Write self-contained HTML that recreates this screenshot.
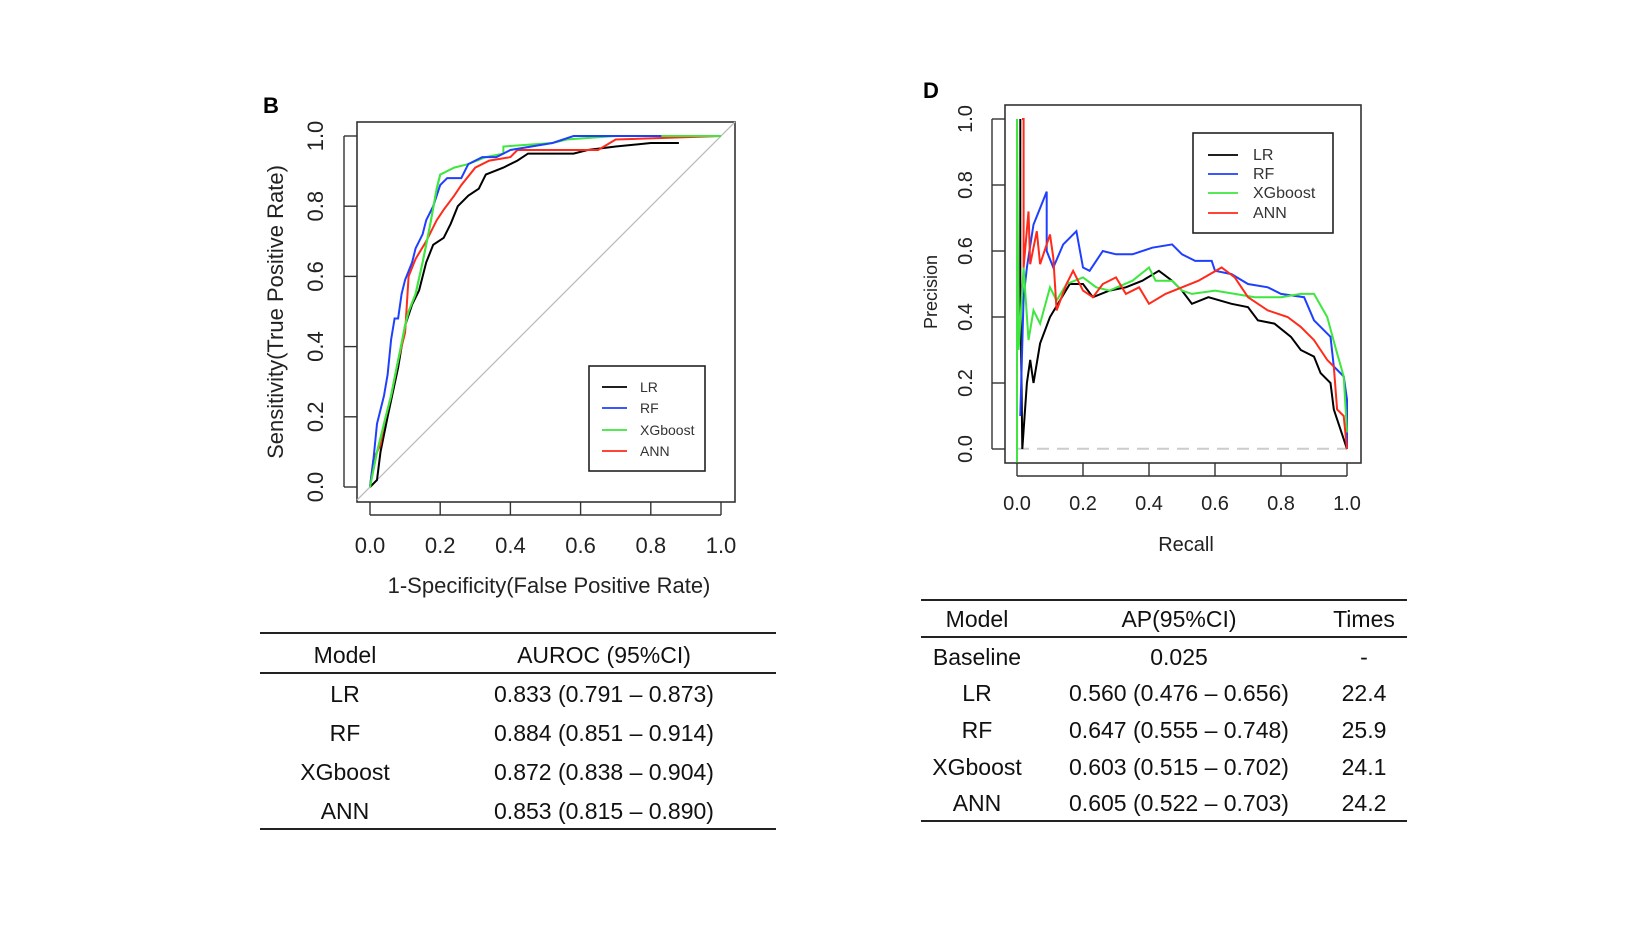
<!DOCTYPE html>
<html><head><meta charset="utf-8"><style>
html,body{margin:0;padding:0;background:#fff;}
svg{display:block;font-family:"Liberation Sans",sans-serif;}
</style></head><body>
<svg id="fig" width="1644" height="926" xmlns="http://www.w3.org/2000/svg">
<rect width="1644" height="926" fill="#fff"/>
<g id="roc"></g>
<g id="pr"></g>
<g id="tables"></g>
</svg>
<script>
const models=["LR","RF","XGboost","ANN"];
const colors=["#000000","#1f3fff","#3ee63e","#ff2a1a"];
const ticks=[0,0.2,0.4,0.6,0.8,1.0];
const tickLabels=["0.0","0.2","0.4","0.6","0.8","1.0"];
const rocLRx=[0,0.02,0.03,0.05,0.08,0.10,0.12,0.14,0.16,0.18,0.21,0.23,0.25,0.28,0.31,0.33,0.38,0.42,0.45,0.58,0.62,0.70,0.80,0.88];
const rocLRy=[0,0.02,0.10,0.20,0.34,0.46,0.52,0.56,0.64,0.69,0.71,0.75,0.80,0.83,0.85,0.89,0.91,0.93,0.95,0.95,0.96,0.97,0.98,0.98];
const rocRFx=[0,0.01,0.02,0.04,0.05,0.06,0.07,0.08,0.09,0.10,0.12,0.13,0.15,0.16,0.18,0.20,0.22,0.26,0.28,0.32,0.36,0.40,0.52,0.58,0.83];
const rocRFy=[0,0.08,0.18,0.26,0.32,0.42,0.48,0.48,0.55,0.59,0.64,0.68,0.72,0.76,0.80,0.86,0.88,0.88,0.92,0.94,0.94,0.96,0.98,1.0,1.0];
const rocXGx=[0,0.02,0.04,0.06,0.08,0.10,0.11,0.13,0.15,0.17,0.19,0.20,0.24,0.28,0.33,0.38,0.38,0.52,0.56,0.70,1.0];
const rocXGy=[0,0.10,0.18,0.26,0.36,0.46,0.50,0.55,0.64,0.74,0.85,0.89,0.91,0.92,0.94,0.95,0.97,0.98,0.99,1.0,1.0];
const rocANNx=[0,0.01,0.03,0.04,0.06,0.08,0.10,0.11,0.13,0.16,0.19,0.21,0.24,0.26,0.30,0.34,0.40,0.42,0.55,0.65,0.70,1.0];
const rocANNy=[0,0.08,0.12,0.18,0.26,0.36,0.44,0.60,0.65,0.70,0.76,0.79,0.83,0.86,0.91,0.93,0.94,0.96,0.96,0.96,0.99,1.0];
const prLRx=[0.01,0.01,0.016,0.03,0.04,0.05,0.07,0.10,0.13,0.16,0.20,0.23,0.28,0.33,0.38,0.43,0.47,0.50,0.53,0.58,0.65,0.70,0.73,0.78,0.83,0.86,0.90,0.92,0.95,0.96,0.98,0.99,1.0];
const prLRy=[1.0,0.5,0.0,0.20,0.27,0.20,0.32,0.40,0.45,0.50,0.50,0.46,0.48,0.49,0.51,0.54,0.51,0.48,0.44,0.46,0.44,0.43,0.39,0.38,0.34,0.30,0.28,0.23,0.20,0.12,0.06,0.03,0.0];
const prRFx=[0.01,0.02,0.03,0.05,0.09,0.09,0.11,0.14,0.18,0.20,0.22,0.26,0.30,0.35,0.41,0.47,0.50,0.54,0.59,0.60,0.65,0.70,0.76,0.80,0.87,0.90,0.95,0.96,0.99,1.0,1.0];
const prRFy=[0.10,0.46,0.55,0.68,0.78,0.60,0.55,0.62,0.66,0.55,0.54,0.60,0.59,0.59,0.61,0.62,0.59,0.57,0.57,0.54,0.53,0.50,0.49,0.47,0.46,0.39,0.34,0.25,0.22,0.15,0.0];
const prXGx=[0,0,0.005,0.02,0.035,0.05,0.07,0.10,0.12,0.15,0.20,0.24,0.28,0.35,0.40,0.42,0.47,0.50,0.53,0.60,0.66,0.72,0.80,0.86,0.90,0.94,0.97,0.99,1.0];
const prXGy=[-0.04,1.0,0.30,0.55,0.33,0.42,0.38,0.49,0.45,0.50,0.52,0.49,0.48,0.51,0.55,0.51,0.51,0.48,0.47,0.48,0.47,0.46,0.46,0.47,0.47,0.40,0.29,0.22,0.05];
const prANNx=[0.015,0.02,0.02,0.035,0.04,0.06,0.07,0.10,0.11,0.12,0.15,0.17,0.20,0.23,0.26,0.30,0.33,0.37,0.40,0.45,0.50,0.55,0.62,0.66,0.70,0.76,0.82,0.86,0.90,0.94,0.96,0.97,0.99,1.0];
const prANNy=[1.0,1.0,0.55,0.72,0.56,0.66,0.56,0.65,0.58,0.42,0.50,0.54,0.48,0.46,0.50,0.52,0.47,0.49,0.44,0.47,0.49,0.51,0.55,0.52,0.46,0.42,0.40,0.37,0.33,0.27,0.25,0.12,0.10,0.0];
const baseline=0.025;
const rocTableModels=["LR","RF","XGboost","ANN"];
const rocTableVals=["0.833 (0.791 – 0.873)","0.884 (0.851 – 0.914)","0.872 (0.838 – 0.904)","0.853 (0.815 – 0.890)"];
const prTableModels=["Baseline","LR","RF","XGboost","ANN"];
const prTableVals=["0.025","0.560 (0.476 – 0.656)","0.647 (0.555 – 0.748)","0.603 (0.515 – 0.702)","0.605 (0.522 – 0.703)"];
const prTableTimes=["-","22.4","25.9","24.1","24.2"];

const NS="http://www.w3.org/2000/svg";
function mk(parent,tag,attrs,text){const e=document.createElementNS(NS,tag);for(const k in attrs)e.setAttribute(k,attrs[k]);if(text!==undefined)e.textContent=text;parent.appendChild(e);return e;}

function panel(g,cfg){
  const sx=v=>cfg.x0+v*(cfg.x1-cfg.x0), sy=v=>cfg.y0+v*(cfg.y1-cfg.y0);
  const box=mk(g,'rect',{x:cfg.bx0,y:cfg.by0,width:cfg.bx1-cfg.bx0,height:cfg.by1-cfg.by0,fill:'none',stroke:'#333','stroke-width':1.6});
  
  mk(g,'line',{x1:sx(0),x2:sx(1),y1:cfg.by1+13,y2:cfg.by1+13,stroke:'#333','stroke-width':1.4});
  mk(g,'line',{x1:cfg.bx0-13,x2:cfg.bx0-13,y1:sy(0),y2:sy(1),stroke:'#333','stroke-width':1.4});
  ticks.forEach((t,i)=>{
    mk(g,'line',{x1:sx(t),x2:sx(t),y1:cfg.by1,y2:cfg.by1+13,stroke:'#333','stroke-width':1.4});
    const xl=mk(g,'text',{x:sx(t),y:cfg.xly,'text-anchor':'middle','font-size':cfg.fs,fill:'#222'},tickLabels[i]);
    
    mk(g,'line',{x1:cfg.bx0-13,x2:cfg.bx0,y1:sy(t),y2:sy(t),stroke:'#333','stroke-width':1.4});
    const yl=mk(g,'text',{x:0,y:0,'text-anchor':'middle','font-size':cfg.fs,fill:'#222',transform:`translate(${cfg.ylx},${sy(t)}) rotate(-90)`},tickLabels[i]);
    
  });
  return {sx,sy};
}
function series(g,sx,sy,xs,ys,color,name){
  const p=mk(g,'polyline',{points:xs.map((x,i)=>sx(x).toFixed(1)+','+sy(ys[i]).toFixed(1)).join(' '),fill:'none',stroke:color,'stroke-width':2,'stroke-linejoin':'miter'});
  
}
function legend(g,x0,y0,x1,y1,rows,lx0,lx1,tx,fs){
  const r=mk(g,'rect',{x:x0,y:y0,width:x1-x0,height:y1-y0,fill:'#fff',stroke:'#222','stroke-width':1.6});
  
  models.forEach((m,i)=>{
    mk(g,'line',{x1:lx0,x2:lx1,y1:rows[i],y2:rows[i],stroke:colors[i],'stroke-width':1.8});
    const t=mk(g,'text',{x:tx,y:rows[i]+5,'font-size':fs,fill:'#333'},m);
    
  });
}
// ROC
const roc=document.getElementById('roc');
{
  const lb=mk(roc,'text',{x:263,y:113,'font-size':22,'font-weight':'bold'},'B');
  
  const {sx,sy}=panel(roc,{x0:370,x1:721,y0:487,y1:136,bx0:357,bx1:735,by0:122,by1:502,xly:553,ylx:323,fs:22});
  mk(roc,'line',{x1:357,y1:sy(0)+(sx(0)-357)*(sy(1)-sy(0))/(sx(1)-sx(0))*-1,x2:sx(1)+((735-sx(1))),y2:sy(1)-(735-sx(1)),stroke:'#bbb','stroke-width':1.3});
  series(roc,sx,sy,rocLRx,rocLRy,colors[0],'roc-line-lr');
  series(roc,sx,sy,rocANNx,rocANNy,colors[3],'roc-line-ann');
  series(roc,sx,sy,rocXGx,rocXGy,colors[2],'roc-line-xgboost');
  series(roc,sx,sy,rocRFx,rocRFy,colors[1],'roc-line-rf');
  series(roc,sx,sy,rocXGx.slice(0,12),rocXGy.slice(0,12),colors[2],'roc-line-xgboost-top');
  legend(roc,589,366,705,471,[387,408,430,451],602,627,640,14);
  const xt=mk(roc,'text',{x:549,y:593,'text-anchor':'middle','font-size':22,fill:'#222'},'1-Specificity(False Positive Rate)');
  
  const yt=mk(roc,'text',{x:0,y:0,'text-anchor':'middle','font-size':22,fill:'#222',transform:'translate(283,312) rotate(-90)'},'Sensitivity(True Positive Rate)');
  
}
// PR
const pr=document.getElementById('pr');
{
  const lb=mk(pr,'text',{x:923,y:98,'font-size':22,'font-weight':'bold'},'D');
  
  const {sx,sy}=panel(pr,{x0:1017,x1:1347,y0:449,y1:119,bx0:1005,bx1:1361,by0:105,by1:463,xly:510,ylx:972,fs:20});
  const bl=mk(pr,'line',{x1:sx(0),x2:sx(1),y1:sy(baseline)+8,y2:sy(baseline)+8,stroke:'#ccc','stroke-width':2,'stroke-dasharray':'12,8'});
  
  series(pr,sx,sy,prLRx,prLRy,colors[0],'pr-line-lr');
  series(pr,sx,sy,prRFx,prRFy,colors[1],'pr-line-rf');
  series(pr,sx,sy,prXGx,prXGy,colors[2],'pr-line-xgboost');
  series(pr,sx,sy,prANNx,prANNy,colors[3],'pr-line-ann');
  legend(pr,1193,133,1333,233,[155,174,193,213],1208,1238,1253,16);
  const xt=mk(pr,'text',{x:1186,y:551,'text-anchor':'middle','font-size':20,fill:'#222'},'Recall');
  
  const yt=mk(pr,'text',{x:0,y:0,'text-anchor':'middle','font-size':18,fill:'#222',transform:'translate(937,292) rotate(-90)'},'Precision');
  
}
// Tables
const tb=document.getElementById('tables');
function hline(x1,x2,y){const l=mk(tb,'line',{x1,x2,y1:y,y2:y,stroke:'#222','stroke-width':2});}
function cell(x,y,t,name){const e=mk(tb,'text',{x,y,'text-anchor':'middle','font-size':23,fill:'#111'},t);}
hline(260,776,633);hline(260,776,673);hline(260,776,829);
cell(345,663,'Model','roc-table-header-model');cell(604,663,'AUROC (95%CI)','roc-table-header-auroc');
const rocRowY=[702,741,780,819];
rocTableModels.forEach((m,i)=>{cell(345,rocRowY[i],m,'roc-table-model');cell(604,rocRowY[i],rocTableVals[i],'roc-table-auroc');});
hline(921,1407,600);hline(921,1407,637);hline(921,1407,821);
cell(977,627,'Model','pr-table-header-model');cell(1179,627,'AP(95%CI)','pr-table-header-ap');cell(1364,627,'Times','pr-table-header-times');
const prRowY=[665,701,738,775,811];
prTableModels.forEach((m,i)=>{cell(977,prRowY[i],m,'pr-table-model');cell(1179,prRowY[i],prTableVals[i],'pr-table-ap');cell(1364,prRowY[i],prTableTimes[i],'pr-table-times');});
</script>
</body></html>
